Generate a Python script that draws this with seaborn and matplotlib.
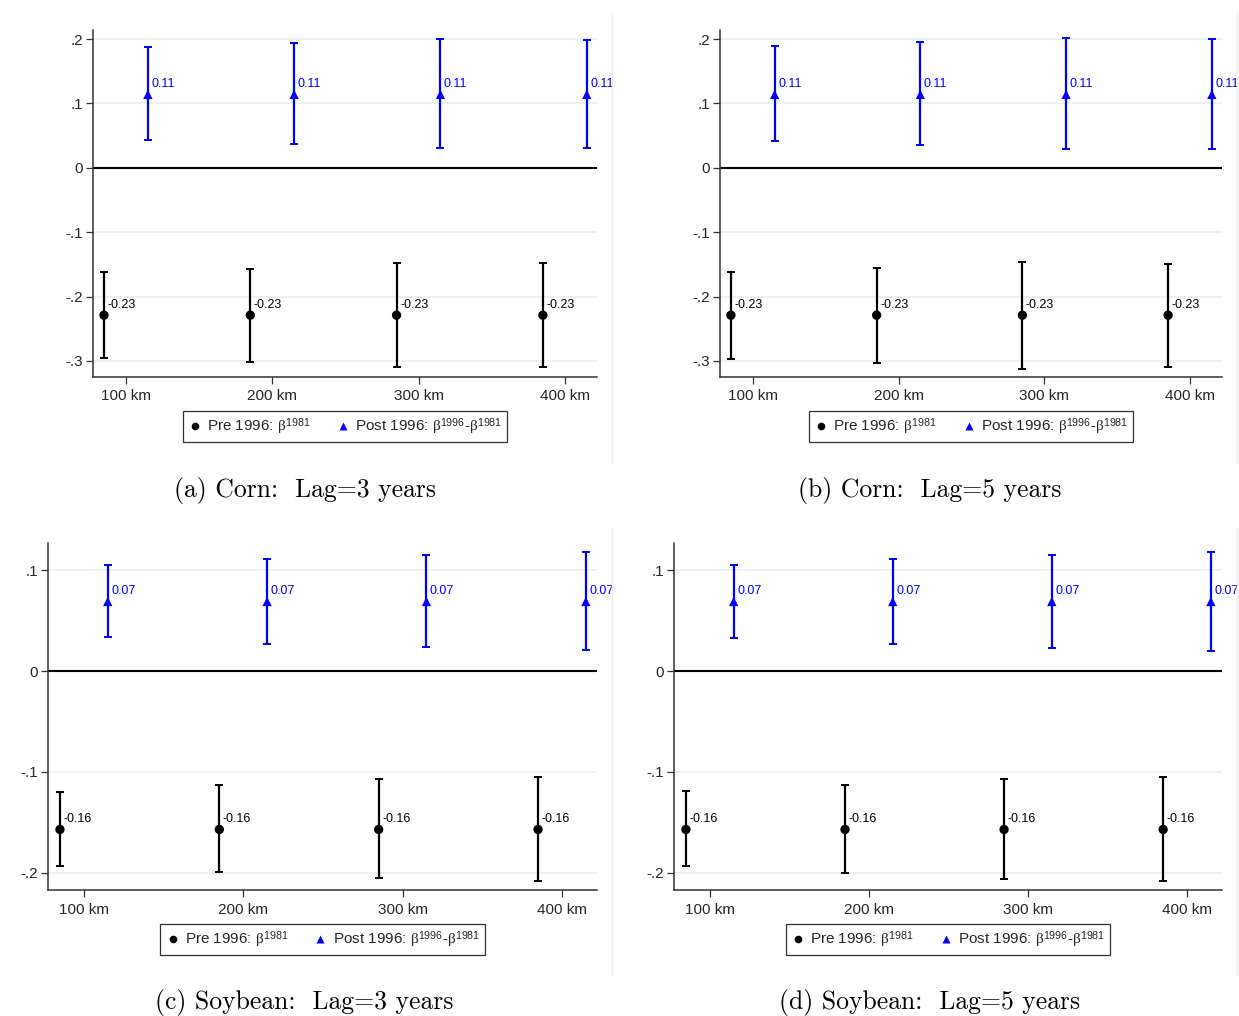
import matplotlib
matplotlib.use("Agg")
import matplotlib.pyplot as plt
from matplotlib.lines import Line2D
import numpy as np
import pandas as pd
import seaborn as sns

# ---------------- data ----------------
distances = [100, 200, 300, 400]
tick_labels = ["100 km", "200 km", "300 km", "400 km"]

corn3_pre_est = [-0.229, -0.229, -0.229, -0.229]
corn3_pre_lo = [-0.295, -0.301, -0.310, -0.309]
corn3_pre_hi = [-0.162, -0.157, -0.148, -0.148]
corn3_post_est = [0.114, 0.114, 0.114, 0.114]
corn3_post_lo = [0.043, 0.037, 0.031, 0.031]
corn3_post_hi = [0.188, 0.194, 0.200, 0.199]

corn5_pre_est = [-0.229, -0.229, -0.229, -0.229]
corn5_pre_lo = [-0.297, -0.303, -0.312, -0.310]
corn5_pre_hi = [-0.162, -0.155, -0.147, -0.149]
corn5_post_est = [0.114, 0.114, 0.114, 0.114]
corn5_post_lo = [0.041, 0.035, 0.029, 0.029]
corn5_post_hi = [0.189, 0.195, 0.201, 0.200]

soy3_pre_est = [-0.157, -0.157, -0.157, -0.157]
soy3_pre_lo = [-0.193, -0.199, -0.205, -0.208]
soy3_pre_hi = [-0.120, -0.113, -0.107, -0.105]
soy3_post_est = [0.069, 0.069, 0.069, 0.069]
soy3_post_lo = [0.034, 0.027, 0.024, 0.021]
soy3_post_hi = [0.105, 0.111, 0.115, 0.118]

soy5_pre_est = [-0.157, -0.157, -0.157, -0.157]
soy5_pre_lo = [-0.193, -0.200, -0.206, -0.208]
soy5_pre_hi = [-0.119, -0.113, -0.107, -0.105]
soy5_post_est = [0.069, 0.069, 0.069, 0.069]
soy5_post_lo = [0.033, 0.027, 0.023, 0.020]
soy5_post_hi = [0.105, 0.111, 0.115, 0.118]

titles = ["(a) Corn:  Lag=3 years", "(b) Corn:  Lag=5 years",
          "(c) Soybean:  Lag=3 years", "(d) Soybean:  Lag=5 years"]

# ---------------- style ----------------
sns.set_theme(style="white")
plt.rcParams["font.family"] = ["Liberation Sans", "DejaVu Sans"]
plt.rcParams["mathtext.fontset"] = "custom"
plt.rcParams["mathtext.rm"] = "Liberation Serif"
plt.rcParams["mathtext.it"] = "Liberation Serif:italic"
plt.rcParams["mathtext.sf"] = "Liberation Sans"

W, H = 1239, 1016
fig = plt.figure(figsize=(W / 100, H / 100), dpi=100)
fig.patch.set_facecolor("white")

PRE_C = "black"
POST_C = "#0000ff"
OFFSET = 15

panels = [
    dict(pre=(corn3_pre_est, corn3_pre_lo, corn3_pre_hi),
         post=(corn3_post_est, corn3_post_lo, corn3_post_hi),
         box=(93, 30, 597, 377), ylim=(-0.325, 0.214),
         yt=[0.2, 0.1, 0, -0.1, -0.2, -0.3], title_xy=(305, 490)),
    dict(pre=(corn5_pre_est, corn5_pre_lo, corn5_pre_hi),
         post=(corn5_post_est, corn5_post_lo, corn5_post_hi),
         box=(720, 30, 1222, 377), ylim=(-0.325, 0.214),
         yt=[0.2, 0.1, 0, -0.1, -0.2, -0.3], title_xy=(930, 490)),
    dict(pre=(soy3_pre_est, soy3_pre_lo, soy3_pre_hi),
         post=(soy3_post_est, soy3_post_lo, soy3_post_hi),
         box=(48, 543, 597, 890), ylim=(-0.217, 0.127),
         yt=[0.1, 0, -0.1, -0.2], title_xy=(304, 1002)),
    dict(pre=(soy5_pre_est, soy5_pre_lo, soy5_pre_hi),
         post=(soy5_post_est, soy5_post_lo, soy5_post_hi),
         box=(674, 543, 1222, 890), ylim=(-0.217, 0.127),
         yt=[0.1, 0, -0.1, -0.2], title_xy=(930, 1002)),
]


def fmt_tick(v):
    if v == 0:
        return "0"
    s = f"{v:.1f}"
    return s.replace("0.", ".")


for p, title in zip(panels, titles):
    x0, y0, x1, y1 = p["box"]
    ax = fig.add_axes([x0 / W, 1 - y1 / H, (x1 - x0) / W, (y1 - y0) / H])
    ax.set_facecolor("white")

    rows = []
    for name, (est, lo, hi), off in (("Pre", p["pre"], -OFFSET), ("Post", p["post"], OFFSET)):
        for d, e, l, h in zip(distances, est, lo, hi):
            rows.append(dict(group=name, x=d + off, est=e, lo=l, hi=h))
    df = pd.DataFrame(rows)

    # grid and zero line
    for t in p["yt"]:
        if t != 0:
            ax.axhline(t, color="#e8f0f2", lw=1.2, zorder=0)
    ax.axhline(0, color="black", lw=1.5, zorder=1)

    for name, col in (("Pre", PRE_C), ("Post", POST_C)):
        sub = df[df.group == name]
        ax.errorbar(sub.x, sub.est,
                    yerr=[sub.est - sub.lo, sub.hi - sub.est],
                    fmt="none", ecolor=col, elinewidth=1.6, capsize=3.2,
                    capthick=1.4, zorder=2)
        for _, r in sub.iterrows():
            ax.annotate(f"{r.est:.2f}", (r.x, r.est), xytext=(2.5, 3.2),
                        textcoords="offset points", ha="left", va="bottom",
                        fontsize=9, color=col, zorder=4, annotation_clip=False)

    sns.scatterplot(data=df, x="x", y="est", hue="group", style="group",
                    palette={"Pre": PRE_C, "Post": POST_C},
                    markers={"Pre": "o", "Post": "^"},
                    s=45, edgecolor="none", legend=False, ax=ax, zorder=3)

    ax.set_xlim(77.5, 422)
    ax.set_ylim(*p["ylim"])
    ax.set_xticks(distances)
    ax.set_xticklabels(tick_labels, fontsize=11)
    ax.set_yticks(p["yt"])
    ax.set_yticklabels([fmt_tick(t) for t in p["yt"]], fontsize=11)
    ax.set_xlabel("")
    ax.set_ylabel("")
    for s in ("top", "right"):
        ax.spines[s].set_visible(False)
    for s in ("left", "bottom"):
        ax.spines[s].set_color("#333333")
        ax.spines[s].set_linewidth(1.1)
    ax.tick_params(axis="both", which="major", direction="out", length=5,
                   width=0.9, color="#333333", left=True, bottom=True, pad=4)
    ax.tick_params(axis="y", pad=2)

    handles = [
        Line2D([], [], marker="o", color="none", markerfacecolor=PRE_C,
               markeredgecolor="none", markersize=5.5),
        Line2D([], [], marker="^", color="none", markerfacecolor=POST_C,
               markeredgecolor="none", markersize=6),
    ]
    labels = [r"Pre 1996: $\mathrm{\beta}^{\mathsf{1981}}$",
              r"Post 1996: $\mathrm{\beta}^{\mathsf{1996}}$-$\mathrm{\beta}^{\mathsf{1981}}$"]
    leg = ax.legend(handles, labels, loc="center", ncol=2,
                    bbox_to_anchor=(0.5, -49.5 / (y1 - y0)),
                    frameon=True, fancybox=False, fontsize=11,
                    handletextpad=0.3, columnspacing=1.6, handlelength=1.0,
                    borderpad=0.3, borderaxespad=0)
    leg.get_frame().set_edgecolor("black")
    leg.get_frame().set_linewidth(0.9)

    fig.text(p["title_xy"][0] / W, 1 - p["title_xy"][1] / H, title,
             ha="center", va="center", fontsize=18.5, fontfamily="cmr10",
             color="black")

# faint frame lines of the graph regions
for (xx, ya, yb) in ((612, 13, 463), (1237, 13, 463), (612, 528, 975), (1237, 528, 975)):
    fig.add_artist(Line2D([xx / W, xx / W], [1 - ya / H, 1 - yb / H],
                          color="#eeeeee", lw=1))

fig.savefig("out.png", dpi=100, facecolor="white")
